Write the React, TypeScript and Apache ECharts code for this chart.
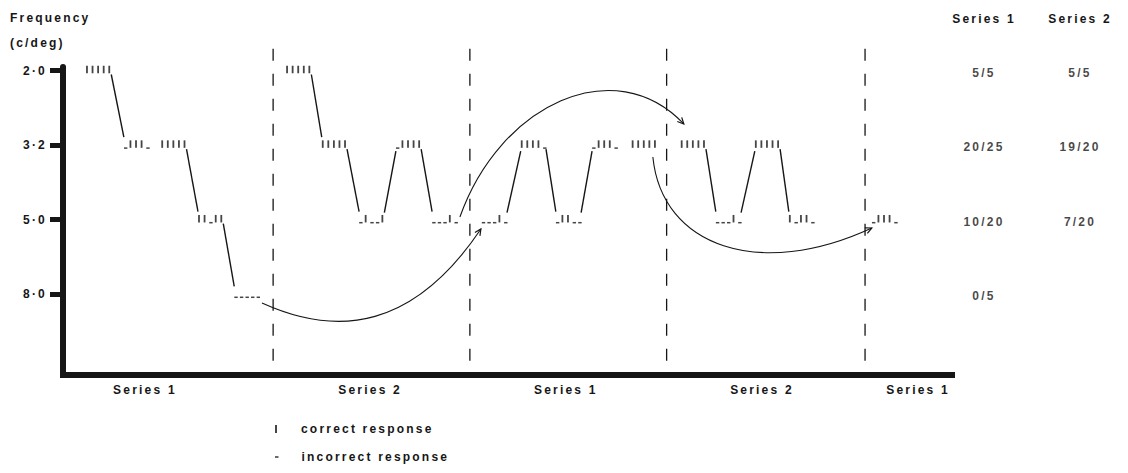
import React, { useEffect, useRef } from "react";
import * as echarts from "echarts";

// ---- data ----
const levelValues = [0, 1, 2, 3];
const levelLabels = ["2·0", "3·2", "5·0", "8·0"];

const sessionNames = ["Series 1", "Series 2", "Series 1", "Series 2", "Series 1"];
const sessionLabelX = [14.7, 55.1, 90.2, 125.4, 153.4];
const sessionBoundaryX = [37.7, 73.0, 108.3, 143.9];

// start of each block of 5 trials (x in trial units), its frequency level and its responses
const blockX = [4.3, 11.1, 17.8, 24.4, 30.9, 40.2, 46.6, 53.3, 59.9, 66.4, 75.3, 82.3, 88.6, 95.1, 102.2, 111.0, 117.3, 124.3, 130.4, 145.3];
const blockLevel = [0, 1, 1, 2, 3, 0, 1, 2, 1, 2, 2, 1, 2, 1, 1, 1, 2, 1, 2, 2];
const blockPattern = [
  "IIIII", "_III_", "IIIII", "II_II", "_____",
  "IIIII", "IIIII", "_I__I", "_IIII", "___I_",
  "___I_", "IIII_", "_II__", "_III_", "IIIII",
  "IIIII", "___I_", "IIIII", "I_II_",
  "_III_",
];
const blockSession = [0, 0, 0, 0, 0, 1, 1, 1, 1, 1, 2, 2, 2, 2, 2, 3, 3, 3, 3, 4];

// curved arrows: start, control 1, control 2, end (x, level)
const arrowCurves = [
  [35.7, 3.117, 49.42, 3.582, 62.96, 3.46, 74.98, 2.125],
  [71.21, 1.964, 78.39, 0.449, 99.01, -0.261, 111.39, 0.717],
  [105.83, 1.16, 107.44, 2.366, 125.02, 2.808, 145.11, 2.111],
];

const tableColumns = ["Series 1", "Series 2"];
const series1Scores = ["5/5", "20/25", "10/20", "0/5"];
const series2Scores = ["5/5", "19/20", "7/20"];

// ---- styles ----
const INK = "#161616";
const FONT = "Liberation Sans";
const Y_MIN = -0.047;
const Y_MAX = 4.082;
const DASH_TOP = -0.29;
const DASH_BOTTOM = 3.9;

export default function App() {
  const ref = useRef<HTMLDivElement>(null);

  useEffect(() => {
    if (!ref.current) return;
    const chart = echarts.init(ref.current, undefined, { renderer: "svg" });

    const correctPts: number[][] = [];
    const incorrectPts: number[][] = [];
    blockPattern.forEach((p, b) => {
      for (let i = 0; i < p.length; i++) {
        const pt = [blockX[b] + i, blockLevel[b]];
        if (p[i] === "I") correctPts.push(pt);
        else incorrectPts.push(pt);
      }
    });

    const connectors: number[][] = [];
    for (let b = 0; b < blockX.length - 1; b++) {
      if (blockSession[b] === blockSession[b + 1] && blockLevel[b] !== blockLevel[b + 1]) {
        connectors.push([blockX[b] + blockPattern[b].length - 1, blockLevel[b], blockX[b + 1], blockLevel[b + 1]]);
      }
    }

    const tableData: any[] = [
      ...series1Scores.map((s, i) => [0, levelValues[i], s]),
      ...series2Scores.map((s, i) => [1, levelValues[i], s]),
    ];

    const txt = { color: INK, fontFamily: FONT, fontWeight: "bold" as const, fontSize: 12 };

    chart.setOption({
      animation: false,
      backgroundColor: "#ffffff",
      textStyle: { fontFamily: FONT },
      grid: [
        { left: 63, width: 889, top: 67, bottom: 98 },
        { left: 936, width: 204, top: 67, bottom: 98 },
      ],
      xAxis: [
        {
          gridIndex: 0,
          type: "value",
          min: 0,
          max: 159.5,
          axisLine: { show: true, onZero: false, lineStyle: { color: INK, width: 6, cap: "square" } },
          axisTick: { show: false },
          splitLine: { show: false },
          axisLabel: {
            ...txt,
            customValues: sessionLabelX,
            margin: 9,
            formatter: (v: number) => {
              const i = sessionLabelX.findIndex((x) => Math.abs(x - v) < 1e-6);
              return i >= 0 ? sessionNames[i] : "";
            },
          },
        },
        {
          gridIndex: 1,
          type: "category",
          data: tableColumns,
          position: "top",
          axisLine: { show: false },
          axisTick: { show: false },
          splitLine: { show: false },
          axisLabel: { ...txt, margin: 42 },
        },
      ],
      yAxis: [
        {
          gridIndex: 0,
          type: "value",
          inverse: true,
          min: Y_MIN,
          max: Y_MAX,
          axisLine: { show: true, onZero: false, lineStyle: { color: INK, width: 6 } },
          axisTick: { show: true, customValues: levelValues, length: 13, lineStyle: { color: INK, width: 5 } },
          splitLine: { show: false },
          axisLabel: {
            ...txt,
            customValues: levelValues,
            margin: 16,
            formatter: (v: number) => {
              const i = levelValues.indexOf(Math.round(v));
              return i >= 0 ? levelLabels[i] : "";
            },
          },
        },
        {
          gridIndex: 1,
          type: "value",
          inverse: true,
          min: Y_MIN,
          max: Y_MAX,
          show: false,
        },
      ],
      legend: [
        {
          data: [{ name: "correct response", icon: "rect" }],
          left: 270,
          top: 418,
          itemWidth: 2,
          itemHeight: 8,
          selectedMode: false,
          textStyle: { ...txt, padding: [0, 0, 0, 19] },
        },
        {
          data: [{ name: "incorrect response", icon: "rect" }],
          left: 270,
          top: 446,
          itemWidth: 3.5,
          itemHeight: 1.6,
          selectedMode: false,
          textStyle: { ...txt, padding: [0, 0, 0, 18] },
        },
      ],
      graphic: [
        { type: "text", left: 10, top: 12, style: { text: "Frequency", fill: INK, font: `bold 12px "${FONT}"` } },
        { type: "text", left: 10, top: 37, style: { text: "(c/deg)", fill: INK, font: `bold 12px "${FONT}"` } },
      ],
      series: [
        {
          name: "correct response",
          type: "scatter",
          xAxisIndex: 0,
          yAxisIndex: 0,
          data: correctPts,
          symbol: "rect",
          symbolSize: [1.8, 7.5],
          symbolOffset: [0, -1],
          itemStyle: { color: INK },
          silent: true,
        },
        {
          name: "incorrect response",
          type: "scatter",
          xAxisIndex: 0,
          yAxisIndex: 0,
          data: incorrectPts,
          symbol: "rect",
          symbolSize: [3.4, 1.5],
          symbolOffset: [0.8, 3],
          itemStyle: { color: INK },
          silent: true,
        },
        {
          name: "transitions",
          type: "custom",
          xAxisIndex: 0,
          yAxisIndex: 0,
          data: connectors,
          silent: true,
          renderItem: (_p: any, api: any) => {
            const a = api.coord([api.value(0), api.value(1)]);
            const b = api.coord([api.value(2), api.value(3)]);
            const down = api.value(3) > api.value(1);
            return {
              type: "line",
              shape: { x1: a[0] + 2, y1: a[1] + (down ? 4 : -7), x2: b[0] - 1, y2: b[1] + (down ? -8 : 6) },
              style: { stroke: INK, lineWidth: 1.4 },
            };
          },
        },
        {
          name: "carry-over",
          type: "custom",
          xAxisIndex: 0,
          yAxisIndex: 0,
          data: arrowCurves,
          silent: true,
          renderItem: (_p: any, api: any) => {
            const v = [0, 1, 2, 3, 4, 5, 6, 7].map((i) => api.value(i));
            const p0 = api.coord([v[0], v[1]]);
            const p1 = api.coord([v[2], v[3]]);
            const p2 = api.coord([v[4], v[5]]);
            const p3 = api.coord([v[6], v[7]]);
            const ang = Math.atan2(p3[1] - p2[1], p3[0] - p2[0]);
            const L = 7;
            const sp = 0.45;
            const a1 = [p3[0] - L * Math.cos(ang - sp), p3[1] - L * Math.sin(ang - sp)];
            const a2 = [p3[0] - L * Math.cos(ang + sp), p3[1] - L * Math.sin(ang + sp)];
            return {
              type: "group",
              children: [
                {
                  type: "bezierCurve",
                  shape: { x1: p0[0], y1: p0[1], cpx1: p1[0], cpy1: p1[1], cpx2: p2[0], cpy2: p2[1], x2: p3[0], y2: p3[1] },
                  style: { stroke: INK, fill: "none", lineWidth: 1.1 },
                },
                {
                  type: "polyline",
                  shape: { points: [a1, p3, a2] },
                  style: { stroke: INK, fill: "none", lineWidth: 1.2 },
                },
              ],
            };
          },
        },
        {
          name: "boundaries",
          type: "custom",
          xAxisIndex: 0,
          yAxisIndex: 0,
          data: sessionBoundaryX.map((x) => [x]),
          encode: { x: 0 },
          silent: true,
          renderItem: (_p: any, api: any) => {
            const x = api.value(0);
            const t = api.coord([x, DASH_TOP]);
            const b = api.coord([x, DASH_BOTTOM]);
            return {
              type: "line",
              shape: { x1: t[0], y1: t[1], x2: b[0], y2: b[1] },
              style: { stroke: INK, lineWidth: 1.3, lineDash: [12, 13] },
            };
          },
        },
        {
          name: "scores",
          type: "scatter",
          xAxisIndex: 1,
          yAxisIndex: 1,
          data: tableData,
          symbolSize: 0,
          silent: true,
          itemStyle: { color: "rgba(0,0,0,0)" },
          label: {
            show: true,
            position: "inside",
            offset: [0, 2],
            ...txt,
            formatter: (p: any) => p.data[2],
          },
        },
      ],
    });

    return () => chart.dispose();
  }, []);

  return (
    <>
      <style>{`.fig text { letter-spacing: 2.2px; }`}</style>
      <div
        ref={ref}
        className="fig"
        style={{ position: "fixed", left: 0, top: 0, width: 1128, height: 473, background: "#fff" }}
      />
    </>
  );
}
